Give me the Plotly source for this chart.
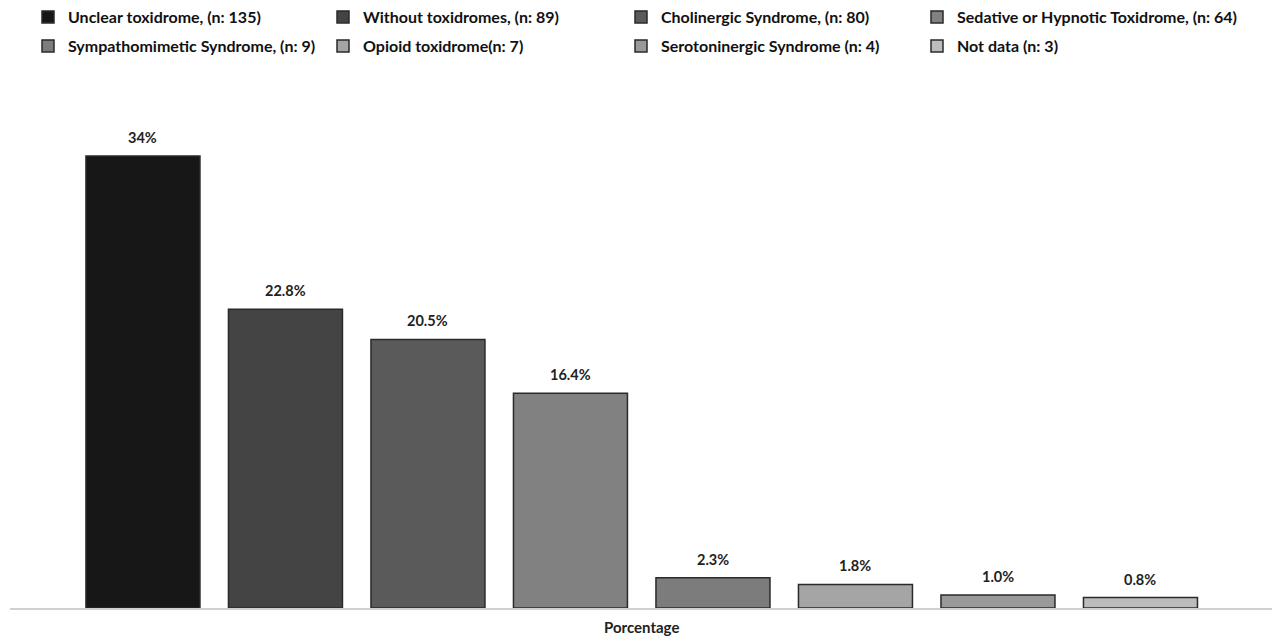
import plotly.graph_objects as go

series_names = [
    "Unclear toxidrome, (n: 135)",
    "Without toxidromes, (n: 89)",
    "Cholinergic Syndrome, (n: 80)",
    "Sedative or Hypnotic Toxidrome, (n: 64)",
    "Sympathomimetic Syndrome, (n: 9)",
    "Opioid toxidrome(n: 7)",
    "Serotoninergic Syndrome (n: 4)",
    "Not data (n: 3)",
]
values = [34.5, 22.8, 20.5, 16.4, 2.3, 1.8, 1.0, 0.8]
value_labels = ["34%", "22.8%", "20.5%", "16.4%", "2.3%", "1.8%", "1.0%", "0.8%"]
colors = ["#171717", "#444444", "#5a5a5a", "#818181", "#7c7c7c", "#a5a5a5", "#999999", "#bcbcbc"]
category = "Porcentage"

FONT = "Lato"
W, H = 1272, 637
legend_text_x = [68, 363, 661, 957]   # legend column text starts (px)
legend_row_y = [17, 46]               # legend row centres (px)

fig = go.Figure()
legend_layouts = {}
for i, (name, v, c) in enumerate(zip(series_names, values, colors)):
    lname = "legend" if i == 0 else "legend%d" % (i + 1)
    fig.add_trace(go.Bar(
        x=[i], y=[v], name=name, width=0.8, legend=lname,
        marker=dict(color=c, line=dict(color="#2a2a2a", width=1.5)),
    ))
    fig.add_annotation(
        x=i, y=v, text="<b>%s</b>" % value_labels[i], showarrow=False,
        yanchor="bottom", yshift=8,
        font=dict(family=FONT, size=14.5, color="#222222"),
    )
    col, row = i % 4, i // 4
    legend_layouts[lname] = dict(
        orientation="h", xanchor="left", yanchor="middle",
        xref="container", yref="container",
        x=(legend_text_x[col] - 40) / W, y=1 - legend_row_y[row] / H,
        font=dict(family=FONT, size=16, color="#111111", weight="bold"),
        itemwidth=30, bgcolor="rgba(0,0,0,0)",
    )

fig.update_layout(
    width=W, height=H,
    margin=dict(l=10, r=0, t=116, b=29, autoexpand=False),
    plot_bgcolor="white", paper_bgcolor="white",
    barmode="overlay",
    showlegend=True,
    font=dict(family=FONT),
    **legend_layouts,
)
fig.update_xaxes(
    range=[-0.933, 7.923],
    tickmode="array", tickvals=[3.5], ticktext=["<b>%s</b>" % category],
    tickfont=dict(family=FONT, size=15, color="#222222"),
    ticklabelstandoff=5,
    showline=True, linecolor="#d0d0d0", linewidth=1.5,
    showgrid=False, zeroline=False, ticks="",
)
fig.update_yaxes(
    range=[0, 37.56], visible=False, showgrid=False, zeroline=False,
)

fig.write_html("out.html")
